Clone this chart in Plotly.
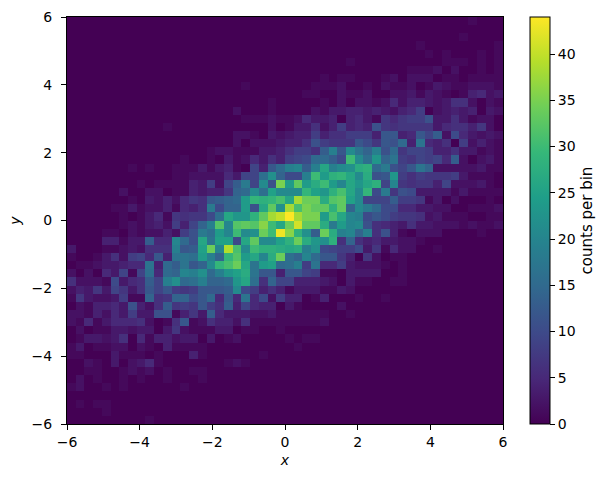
import plotly.graph_objects as go

BIN_START = -5.88
BIN_STEP = 0.24
N_BINS = 50

# counts per bin, top row (y near +6) first; columns 0-24 (x < 0)
counts_left = [
 [],[],[],[],[],[],[],[],
 [0]*20+[1],
 [],
 [0]*23+[1],
 [0]*19+[2,0,0,0,1],
 [0]*20+[1,1,1,2,1],
 [0]*11+[1,0,0,0,0,0,0,0,0,0,0,0,2],
 [0]*19+[2,2,1,0,3,2],
 [0]*19+[2,0,2,2,2,3],
 [0]*16+[1,2,2,1,1,1,3,3,4],
 [0,0,0,0,0,0,0,0,0,0,0,0,0,1,0,0,1,0,3,1,2,5,3,6,4],
 [0,0,0,0,0,0,0,1,0,1,0,0,1,1,1,3,1,3,4,1,0,9,4,12,15],
 [0,0,0,0,0,0,0,0,0,0,0,0,1,1,2,2,2,2,5,3,9,9,16,22,14],
 [0,0,0,0,0,0,0,0,1,0,1,1,1,1,4,3,8,2,9,13,18,9,21,11,35],
 [0,0,0,0,0,0,2,0,0,2,2,0,1,1,4,3,4,4,7,14,15,21,16,25,21],
 [0,0,0,0,0,0,0,1,0,3,2,4,2,5,7,6,12,13,14,15,24,29,28,29,31],
 [0,0,0,0,0,1,1,3,1,2,2,4,1,5,4,6,18,10,14,14,24,11,26,33,22],
 [0,0,0,0,0,0,1,0,1,3,5,1,7,6,7,7,10,16,26,23,23,28,33,38,40],
 [0,0,0,0,0,0,1,2,1,3,4,2,8,4,9,14,19,32,20,32,33,32,36,30,26],
 [0,0,0,0,1,1,0,2,1,2,2,4,2,8,11,18,16,24,20,30,21,22,34,30,43],
 [0,0,0,0,4,4,1,3,3,13,5,5,20,15,11,26,17,25,25,10,26,33,21,21,25],
 [3,0,0,0,1,1,2,3,2,6,6,6,19,12,13,25,34,20,39,31,21,30,28,28,27],
 [1,0,0,1,3,6,2,8,9,5,12,4,17,17,16,24,19,14,29,32,24,26,20,27,34],
 [0,1,1,2,3,3,4,5,5,17,4,15,13,17,12,14,21,29,31,34,26,17,24,25,15],
 [2,0,2,0,5,3,9,1,9,16,5,15,14,20,19,22,15,19,23,25,27,17,12,12,4],
 [6,2,2,2,1,10,3,5,6,13,9,19,22,15,16,19,14,14,15,23,26,16,6,14,9],
 [2,4,3,7,3,9,7,3,6,12,9,12,8,7,8,12,12,12,13,21,10,8,4,6,4],
 [1,7,3,2,2,3,8,1,1,14,6,7,14,14,10,12,15,5,12,5,17,5,10,2,8],
 [0,2,1,4,4,5,3,11,4,2,6,13,7,8,7,12,8,6,13,4,9,5,4,4,0],
 [2,2,1,4,2,5,3,8,3,3,11,11,1,4,7,3,13,5,3,3,3,2,2,3,1],
 [2,1,5,1,3,5,5,5,6,2,0,1,6,12,1,2,6,4,4,2,6,1,1,1,1],
 [0,2,0,1,1,3,3,2,3,3,0,3,7,2,1,1,1,3,3,0,1,1,0,0,1],
 [0,1,3,3,2,3,6,0,5,1,4,4,2,3,3,0,3,0,1,2,0,0,0,0,0],
 [1,3,0,1,1,2,2,0,2,1,0,4,1,1,1,1,0,0,0,0,0,0,0,0,0],
 [1,1,0,0,0,3,1,1,1,0,1,0,0,0,4,1,0,0,0,0,0,0,1,0,0],
 [0,0,2,1,0,3,0,2,3,5,1,0,0,0,0,0,0,0,1,2,1,0,0,0,0],
 [0,0,1,1,0,0,1,2,1,2,0,1,0,0,1,1],
 [0,2,0,1,0,0,1,0,1,0,0,1,0,0,0,1],
 [1,2,0,0,1,0,1,0,0,0,0,0,0,1],
 [],
 [0,1,0,1,1],
 [0,0,0,0,1],
 [0,0,0,0,0,0,0,0,0,1],
]

# counts per bin, same rows; columns 25-49 (x > 0)
counts_right = [
 [0]*21+[1],
 [],
 [0]*20+[1],
 [0]*15+[1,0,0,0,0,0,0,0,0,1],
 [0]*16+[1,0,1,0,0,0,1,0,1],
 [0,0,0,0,0,0,0,1,0,0,0,0,0,0,0,0,0,0,1,1,1,0,1,0,1],
 [0]*14+[1,1,1,2,0,2,0,0,1,0,1],
 [0,0,0,0,1,0,1,1,0,0,0,1,2,0,2,2,2,0,1,1,0,1,1,1,1],
 [0,0,0,1,1,1,2,0,0,1,0,2,1,1,2,0,1,3,2,1,1,2,2,2,1],
 [0,0,1,1,0,0,2,1,1,2,0,0,2,2,3,1,3,2,1,0,1,4,5,2,3],
 [0,0,0,0,1,0,2,0,2,2,1,2,5,2,4,4,3,2,3,6,6,2,0,2,1],
 [0,0,0,2,1,3,3,4,4,3,4,3,2,4,5,8,0,2,3,4,3,4,0,3,2],
 [1,2,5,3,3,4,0,4,5,3,1,7,5,7,8,8,11,3,3,6,3,1,2,2,0],
 [1,3,3,6,2,4,8,4,5,4,11,7,6,7,7,7,7,3,5,6,6,4,7,2,0],
 [3,4,4,8,4,6,6,8,8,8,4,12,12,4,5,12,9,13,2,10,5,3,2,3,2],
 [4,4,6,11,8,7,7,7,12,10,7,12,11,15,4,17,5,4,6,0,8,2,4,2,1],
 [6,8,8,6,13,19,12,21,17,14,19,11,15,7,9,9,8,4,4,6,3,3,1,2,1],
 [8,9,10,15,15,13,10,30,21,16,23,14,17,8,7,9,8,9,5,13,2,0,2,3,1],
 [19,20,13,19,26,19,21,22,27,28,15,18,11,9,12,17,14,2,2,2,2,2,3,1,1],
 [10,10,19,30,24,28,29,26,21,27,11,12,23,8,6,8,7,7,7,8,3,1,1,1,0],
 [24,33,24,27,30,24,20,26,23,26,28,9,20,7,6,7,7,4,9,2,2,2,3,1,0],
 [21,21,29,25,23,28,31,26,21,29,10,18,7,11,10,3,3,3,3,1,3,1,1,1,1],
 [26,38,34,34,27,32,33,25,21,9,9,9,13,8,8,7,1,3,0,2,0,0,0,1,0],
 [38,31,35,33,33,28,33,14,21,18,15,10,10,5,5,3,3,2,2,0,0,1,1,1,2],
 [44,38,35,35,24,31,26,20,19,10,12,10,8,7,7,6,2,3,1,1,1,0,0,1,1],
 [34,41,33,33,27,18,24,20,21,11,6,5,4,3,6,3,3,2,2,2,1,2,1,1,2],
 [36,28,22,13,34,27,19,20,14,19,6,11,4,1,0,2,2,2,0,0,0,0,1,0,0],
 [28,34,27,23,22,28,6,14,6,4,5,3,3,2,2,1],
 [26,27,19,22,10,9,8,8,10,3,7,1,5,2,2,0,0,1],
 [16,14,20,15,12,12,7,4,0,7,2,0,1,1],
 [16,19,8,17,5,5,8,3,2,2,2,1,0,1],
 [12,12,9,8,1,1,0,3,3,3,3,0,0,1],
 [9,4,4,4,3,2,0,3,1,1,0,0,1,1],
 [1,3,3,3,1,1,3,2],
 [4,4,0,1,4,0,0,0,1,0,0,1],
 [3,1,0,0,0,0,2],
 [1,1,1,1,1,0,0,1],
 [1,1,1,1,2],
 [],
 [1,0,1,1],
 [0,1],
 [],[],[],[],[],[],[],[],[],
]

tick_values = [-6, -4, -2, 0, 2, 4, 6]
tick_labels = ["\u22126", "\u22124", "\u22122", "0", "2", "4", "6"]
colorbar_ticks = [0, 5, 10, 15, 20, 25, 30, 35, 40]

half = N_BINS // 2
rows = [
    (l + [0] * (half - len(l))) + (r + [0] * (half - len(r)))
    for l, r in zip(counts_left, counts_right)
]
assert len(rows) == N_BINS and all(len(r) == N_BINS for r in rows)

FONT = "DejaVu Sans"
fig = go.Figure(
    go.Heatmap(
        z=rows[::-1],
        x0=BIN_START, dx=BIN_STEP,
        y0=BIN_START, dy=BIN_STEP,
        colorscale="Viridis",
        zmin=0, zmax=44,
        xgap=0, ygap=0,
        colorbar=dict(
            title=dict(text="counts per bin", side="right",
                       font=dict(family=FONT, size=15, color="black")),
            x=1 + 27 / 437, xanchor="left",
            y=0.5, yanchor="middle",
            lenmode="fraction", len=1,
            thickness=20, thicknessmode="pixels",
            outlinewidth=1, outlinecolor="black",
            xpad=0, ypad=0,
            tickvals=colorbar_ticks, ticks="outside", ticklen=5,
            tickcolor="black", tickwidth=1,
            tickfont=dict(family=FONT, size=14, color="black"),
        ),
    )
)
axis = dict(
    range=[-6, 6], tickvals=tick_values, ticktext=tick_labels,
    ticks="outside", ticklen=5, tickwidth=1, tickcolor="black",
    showline=True, linecolor="black", linewidth=1, mirror=True,
    showgrid=False, zeroline=False,
    tickfont=dict(family=FONT, size=14, color="black"),
)
fig.update_layout(
    width=612, height=481, autosize=False,
    paper_bgcolor="white", plot_bgcolor="white",
    margin=dict(l=66.5, r=108.5, t=17, b=57, autoexpand=False),
    font=dict(family=FONT, color="black"),
    xaxis=dict(axis, title=dict(text="<i>x</i>", font=dict(family=FONT, size=14), standoff=6)),
    yaxis=dict(axis, ticklabelstandoff=6, title=dict(text="<i>y</i>", font=dict(family=FONT, size=14), standoff=7)),
)
fig.write_html("out.html", config={"displayModeBar": False},
               post_script="document.body.style.margin='0';document.documentElement.style.overflow='hidden';")
